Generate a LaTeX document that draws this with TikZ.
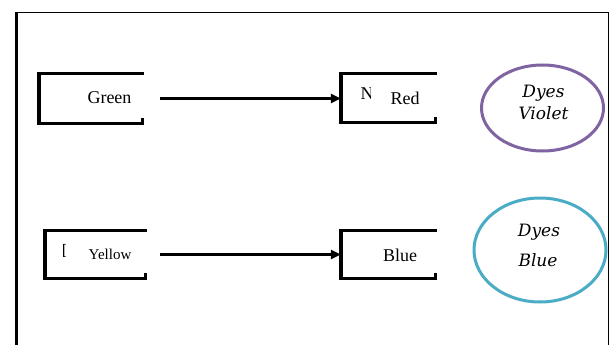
\documentclass[tikz,border=0pt]{standalone}
\usepackage{fontspec}
\setmainfont{Liberation Serif}
\newfontfamily\dyefont{DejaVu Serif}
\usetikzlibrary{shapes.geometric,arrows.meta}
\definecolor{violetring}{HTML}{8064A2}
\definecolor{bluering}{HTML}{4BACC6}
\tikzset{
  frameline/.style={line width=1.4pt},
  slot/.style={rectangle, draw=none, inner sep=0pt},
  edgeh/.style={line width=2.8pt, line cap=butt},
  edgev/.style={line width=3.8pt, line cap=butt},
  flow/.style={line width=2.8pt, -{Triangle[length=10pt,width=9pt]}},
  ring/.style={ellipse, draw, line width=3pt, inner sep=0pt},
  label/.style={inner sep=0pt, font=\fontsize{18}{20}\selectfont},
  dye/.style={inner sep=0pt, font=\dyefont\itshape\fontsize{17}{19}\selectfont},
}
\newcommand{\openbox}[1]{%
  \draw[edgeh] ([xshift=-1.4pt]#1.north west) -- (#1.north east);
  \draw[edgeh] ([xshift=-1.4pt]#1.south west) -- (#1.south east);
  \draw[edgev] ([yshift=1.4pt]#1.north west) -- ([yshift=-1.4pt]#1.south west);
  \draw[line width=3.2pt] ([xshift=-1.6pt]#1.south east) -- ++(0pt,5pt);
}
\begin{document}
\begin{tikzpicture}[x=1pt,y=-1pt]
\useasboundingbox (0,0) rectangle (611,345);
\fill[white] (0,0) rectangle (611,345);

% outer frame, open at the bottom
\coordinate (fbl) at (16.5,345);
\coordinate (ftl) at (16.5,12.5);
\coordinate (ftr) at (608.5,12.5);
\coordinate (fbr) at (608.5,345);
\draw[line width=2.2pt] (fbl) -- (ftl);
\draw[frameline] ([xshift=-1pt]ftl) -- (ftr) -- (fbr);

% colour boxes (open on the right)
\node[slot, minimum width=104pt, minimum height=49pt] (green) at (91.5,98.5) {};
\node[slot, minimum width=96pt, minimum height=48pt] (red) at (389,98) {};
\node[slot, minimum width=102pt, minimum height=47pt] (yellow) at (96,254.5) {};
\node[slot, minimum width=96pt, minimum height=47pt] (blue) at (389,254.5) {};
\openbox{green}
\openbox{red}
\openbox{yellow}
\openbox{blue}

\node[label] (tgreen) at (109.5,98) {Green};
\node[label] (tred) at (405,98) {Red};
\node[label, font=\fontsize{15}{17}\selectfont] (tyellow) at (110,254.5) {Yellow};
\node[label] (tblue) at (400,255.5) {Blue};

% cut-off glyphs left inside two of the boxes
\begin{scope}
  \clip (355,80) rectangle (370.2,115);
  \node[label] (cutn) at (367,94) {N};
\end{scope}
\begin{scope}
  \clip (63.8,240) rectangle (67,270);
  \node[label, font=\fontsize{20}{22}\selectfont] (cuti) at (63.4,251) {I};
\end{scope}

% arrows
\draw[flow] ([xshift=16pt]green.east |- green.center) -- (red.west |- green.center);
\draw[flow] ([xshift=13pt]yellow.east |- yellow.center) -- (blue.west |- yellow.center);

% dye rings
\node[ring, draw=violetring, minimum width=122pt, minimum height=86pt] (violet) at (542.5,108) {};
\node[dye] (dv1) at (543.5,93) {Dyes};
\node[dye] (dv2) at (543.5,113) {Violet};

\node[ring, draw=bluering, minimum width=132pt, minimum height=104pt] (bluedye) at (540,250) {};
\node[dye] (db1) at (539,232) {Dyes};
\node[dye] (db2) at (538,260) {Blue};
\end{tikzpicture}
\end{document}
